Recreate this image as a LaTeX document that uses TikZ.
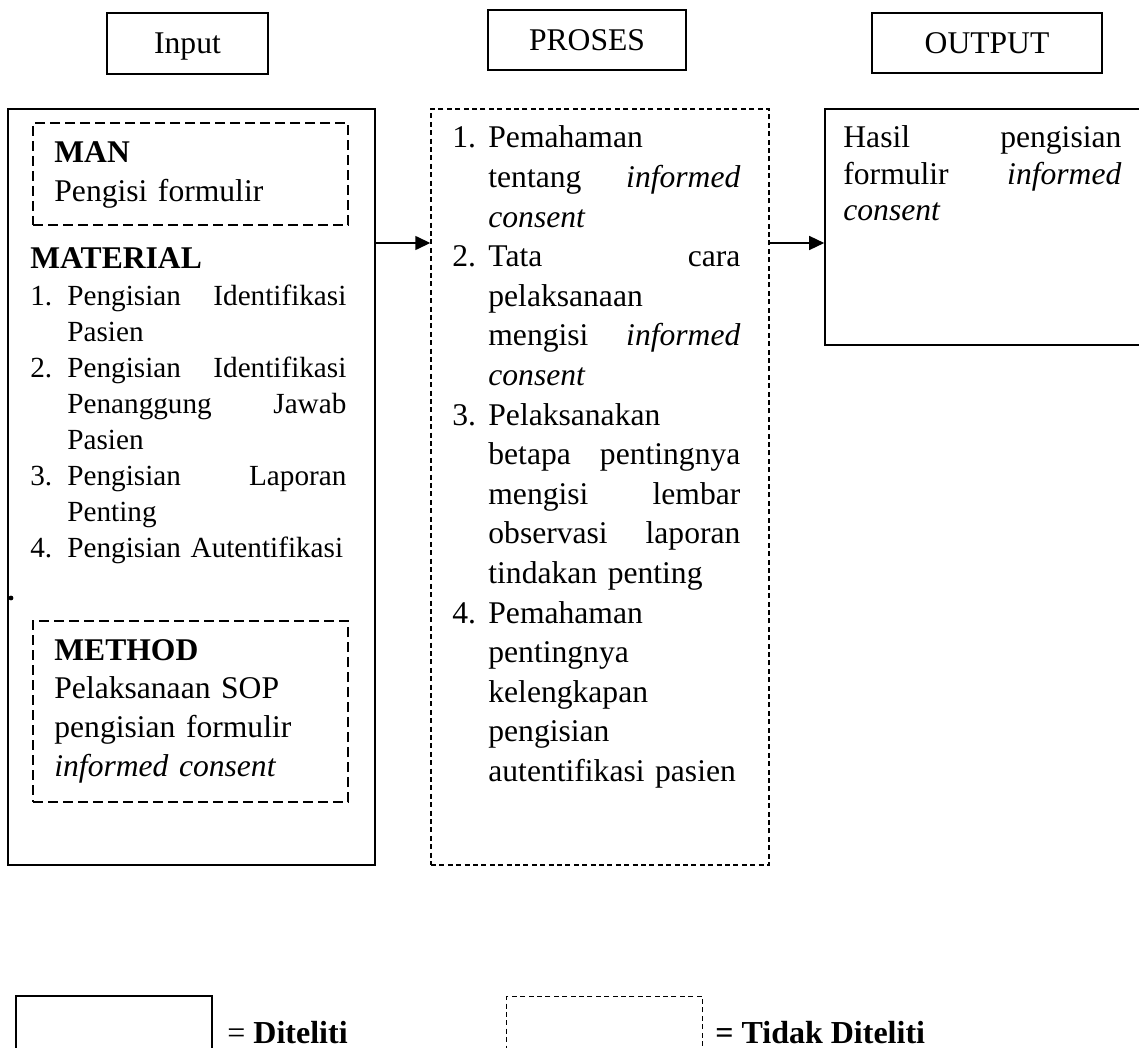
\documentclass[tikz,border=0pt]{standalone}
\usepackage{fontspec}
\setmainfont{Liberation Serif}
\usetikzlibrary{arrows.meta}
\newlength{\numw}
\newcommand{\jl}[3]{\leavevmode\hbox to\linewidth{\hbox to\numw{#1\hfill}#2\hfill#3}}
\tikzset{%
  kepala/.style={draw,line width=1.2pt,inner sep=0pt,text height=10.4pt,text depth=0pt,
                 font=\fontsize{15.8}{19}\selectfont},
  kotak/.style={draw,line width=0.8pt,inner sep=0pt},
  kotakputus/.style={draw,line width=0.7pt,dash pattern=on 2.5pt off 1.7pt,inner sep=0pt},
  kotakdalam/.style={draw,line width=0.7pt,dash pattern=on 5pt off 2.5pt,inner sep=0pt},
  isi/.style={anchor=base west,inner sep=0pt,align=left},
  panah/.style={line width=0.7pt,-{Triangle[length=7.5pt,width=7pt]}},
}
\begin{document}
\begin{tikzpicture}[x=0.5pt,y=-0.5pt]
  \useasboundingbox (0,0) rectangle (1139,1048);
  \clip (0,0) rectangle (1139,1048);
  % judul
  \node[kepala,minimum width=80.5pt,minimum height=30.5pt] (input) at (187.5,43.5) {Input};
  \node[kepala,minimum width=99pt,minimum height=30pt] (proses) at (587,40) {PROSES};
  \node[kepala,minimum width=115pt,minimum height=30pt] (output) at (987,43) {OUTPUT};
  % kotak besar
  \node[kotak,minimum width=183.5pt,minimum height=378pt] (kin) at (191.5,487) {};
  \node[kotakputus,minimum width=169pt,minimum height=378pt] (kpro) at (600,487) {};
  \node[kotak,minimum width=162.5pt,minimum height=118pt] (kout) at (987.5,227) {};
  \node[kotakdalam,minimum width=157.5pt,minimum height=51pt] (man) at (190.5,174) {};
  \node[kotakdalam,minimum width=157.5pt,minimum height=90.5pt] (method) at (190.5,711.5) {};
  % isi input
  \node[isi,text width=140pt,font=\fontsize{15.8}{19.5}\selectfont] (tman) at (54,163)
    {\textbf{MAN}\\Pengisi formulir};
  \node[isi,font=\fontsize{15.8}{19}\selectfont] (tmat) at (30,268) {\textbf{MATERIAL}};
  \node[isi,text width=158pt,font=\fontsize{14.6}{18.05}\selectfont\setlength{\numw}{18.5pt}] (lmat) at (30,305)
    {\jl{1.}{Pengisian}{Identifikasi}\\
     \jl{}{Pasien}{}\\
     \jl{2.}{Pengisian}{Identifikasi}\\
     \jl{}{Penanggung}{Jawab}\\
     \jl{}{Pasien}{}\\
     \jl{3.}{Pengisian}{Laporan}\\
     \jl{}{Penting}{}\\
     \jl{4.}{Pengisian Autentifikasi}{}};
  \fill (11,598) circle (1.2pt);
  \node[isi,text width=140pt,font=\fontsize{15.8}{19.35}\selectfont] (tmet) at (54,660)
    {\textbf{METHOD}\\Pelaksanaan SOP\\pengisian formulir\\\textit{informed consent}};
  % isi proses
  \node[isi,text width=144pt,font=\fontsize{15.8}{19.8}\selectfont\setlength{\numw}{18pt}] (lpro) at (452,148)
    {\jl{1.}{Pemahaman}{}\\
     \jl{}{tentang}{\textit{informed}}\\
     \jl{}{\textit{consent}}{}\\
     \jl{2.}{Tata}{cara}\\
     \jl{}{pelaksanaan}{}\\
     \jl{}{mengisi}{\textit{informed}}\\
     \jl{}{\textit{consent}}{}\\
     \jl{3.}{Pelaksanakan}{}\\
     \jl{}{betapa}{pentingnya}\\
     \jl{}{mengisi}{lembar}\\
     \jl{}{observasi}{laporan}\\
     \jl{}{tindakan penting}{}\\
     \jl{4.}{Pemahaman}{}\\
     \jl{}{pentingnya}{}\\
     \jl{}{kelengkapan}{}\\
     \jl{}{pengisian}{}\\
     \jl{}{autentifikasi pasien}{}};
  % isi output
  \node[isi,text width=139pt,font=\fontsize{15.8}{18.25}\selectfont\setlength{\numw}{0pt}] (tout) at (843,148)
    {\jl{}{Hasil}{pengisian}\\
     \jl{}{formulir}{\textit{informed}}\\
     \jl{}{\textit{consent}}{}};
  % panah
  \coordinate (ay) at (0,243);
  \draw[panah] (kin.east |- ay) -- (kpro.west |- ay);
  \draw[panah] (kpro.east |- ay) -- (kout.west |- ay);
  % keterangan
  \node[kotak,minimum width=98pt,minimum height=40pt,anchor=north west] (ltel) at (15,995) {};
  \node[isi,font=\fontsize{16}{19}\selectfont] (tltel) at (227,1043) {= \textbf{Diteliti}};
  \node[kotakputus,minimum width=98pt,minimum height=40pt,anchor=north west] (ltdk) at (506,996) {};
  \node[isi,font=\fontsize{16}{19}\selectfont] (tltdk) at (715,1043) {\textbf{= Tidak Diteliti}};
\end{tikzpicture}
\end{document}
